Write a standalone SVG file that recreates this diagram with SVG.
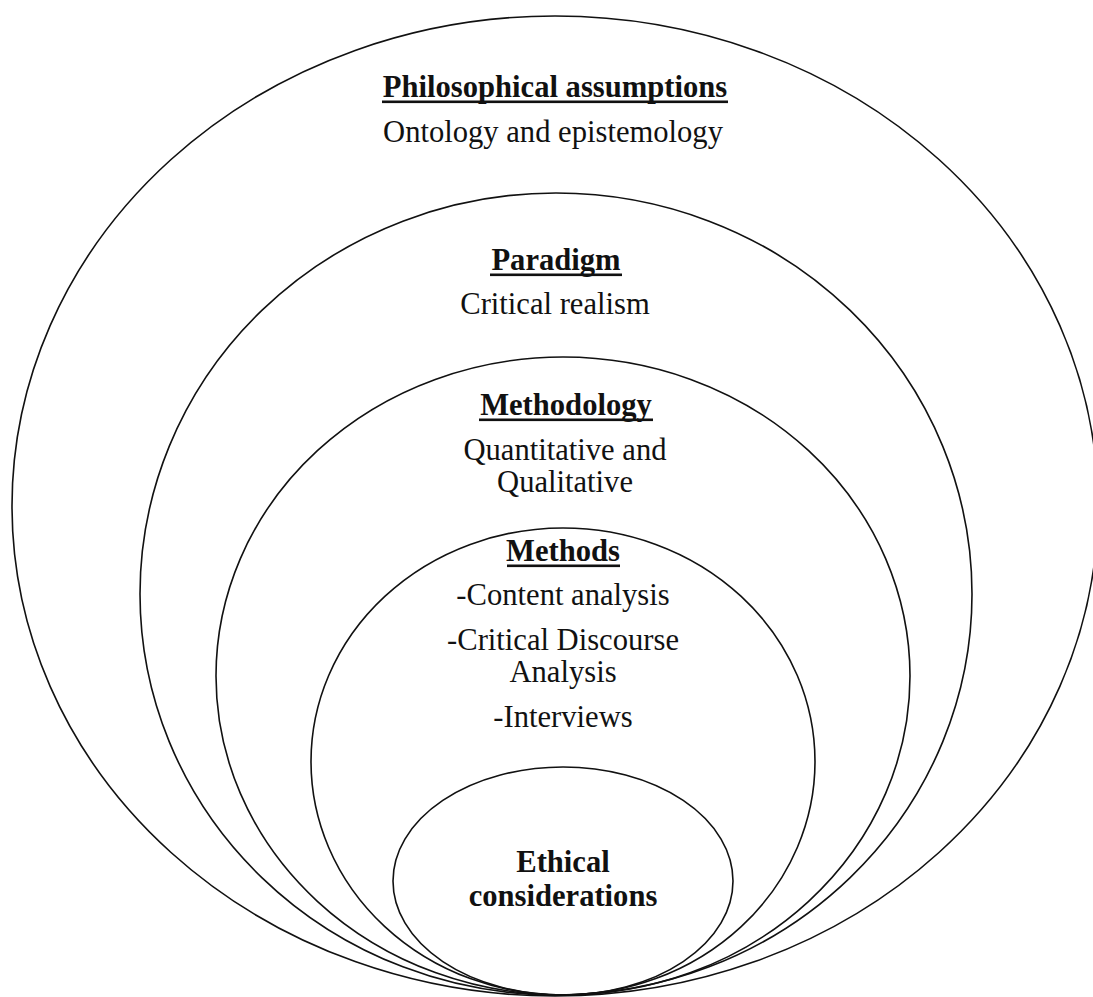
<svg xmlns="http://www.w3.org/2000/svg" width="1093" height="997" viewBox="0 0 1093 997">
  <style>
    .ring { fill: none; stroke: #111; stroke-width: 1.6; }
    .t { font-family: "Liberation Serif", "Times New Roman", serif; font-size: 30.6px; fill: #111; text-anchor: middle; }
    .h { font-weight: bold; }
    .ul { fill: #111; }
  </style>
  <rect width="1093" height="997" fill="#fff"/>

  <!-- Nested layers, outermost first -->
  <g id="philosophical-assumptions">
    <ellipse class="ring" cx="555" cy="506" rx="543" ry="490"/>
    <text class="t h" x="555" y="97">Philosophical assumptions</text>
    <rect class="ul" x="382" y="100.5" width="346" height="2.6"/>
    <text class="t" x="553" y="142">Ontology and epistemology</text>
  </g>

  <g id="paradigm">
    <ellipse class="ring" cx="556" cy="594" rx="416" ry="401"/>
    <text class="t h" x="556" y="270">Paradigm</text>
    <rect class="ul" x="490" y="273.5" width="132" height="2.6"/>
    <text class="t" x="555" y="314">Critical realism</text>
  </g>

  <g id="methodology">
    <ellipse class="ring" cx="563" cy="676" rx="347" ry="319"/>
    <text class="t h" x="566" y="415">Methodology</text>
    <rect class="ul" x="479" y="418.5" width="174" height="2.6"/>
    <text class="t" x="565" y="460">Quantitative and</text>
    <text class="t" x="565" y="492">Qualitative</text>
  </g>

  <g id="methods">
    <ellipse class="ring" cx="563" cy="761.5" rx="252" ry="233.5"/>
    <text class="t h" x="563" y="561">Methods</text>
    <rect class="ul" x="507" y="564.5" width="113" height="2.6"/>
    <text class="t" x="563" y="605">-Content analysis</text>
    <text class="t" x="563" y="650">-Critical Discourse</text>
    <text class="t" x="563" y="682">Analysis</text>
    <text class="t" x="563" y="727">-Interviews</text>
  </g>

  <g id="ethical-considerations">
    <ellipse class="ring" cx="563" cy="881" rx="170" ry="114"/>
    <text class="t h" x="563" y="872">Ethical</text>
    <text class="t h" x="563" y="906">considerations</text>
  </g>

  <g id="connectors"/>
</svg>
